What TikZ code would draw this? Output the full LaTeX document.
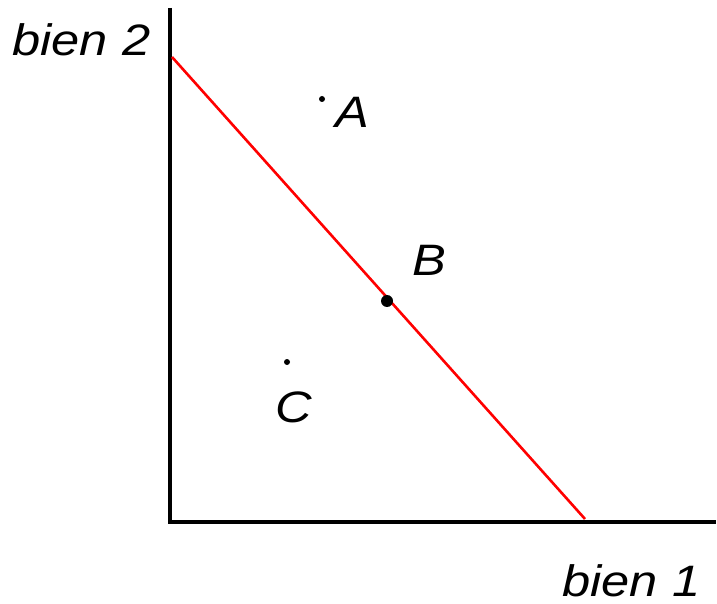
\documentclass[tikz,border=0pt]{standalone}
\usepackage{fontspec}
\setmainfont{Liberation Sans}
\usepackage{xcolor}
\usetikzlibrary{positioning}
\definecolor{cRed}{HTML}{FF0000}

\begin{document}
\begin{tikzpicture}[x=0.5pt,y=-0.5pt,
  lbl/.style={font=\fontsize{22}{24}\selectfont\itshape,inner sep=0pt,xscale=1.15},
  pt/.style={circle,fill=black,inner sep=0pt,minimum size=#1},
  ax/.style={line width=2pt,black},
  bud/.style={line width=1.3pt,cRed}]
\useasboundingbox (0,0) rectangle (717,604);
\coordinate (ytop) at (170,8);
\coordinate (o) at (170,522);
\coordinate (xend) at (716,522);
\coordinate (b2) at (172,57);
\coordinate (b1) at (585,519);
\draw[ax] (ytop) -- (o) -- (xend);
\draw[bud] (b2) -- (b1);
\node[pt=3pt] (ptA) at (322,99) {};
\node[pt=6pt] (ptB) at (387,301) {};
\node[pt=3pt] (ptC) at (287,362) {};
\node[lbl,anchor=base] (labA) at (352,128) {A};
\node[lbl,anchor=base] (labB) at (429,276) {B};
\node[lbl,anchor=base] (labC) at (294,422) {C};
\node[lbl,anchor=base west] (lab2) at (12,56) {bien 2};
\node[lbl,anchor=base west] (lab1) at (562,596) {bien 1};
\end{tikzpicture}
\end{document}
